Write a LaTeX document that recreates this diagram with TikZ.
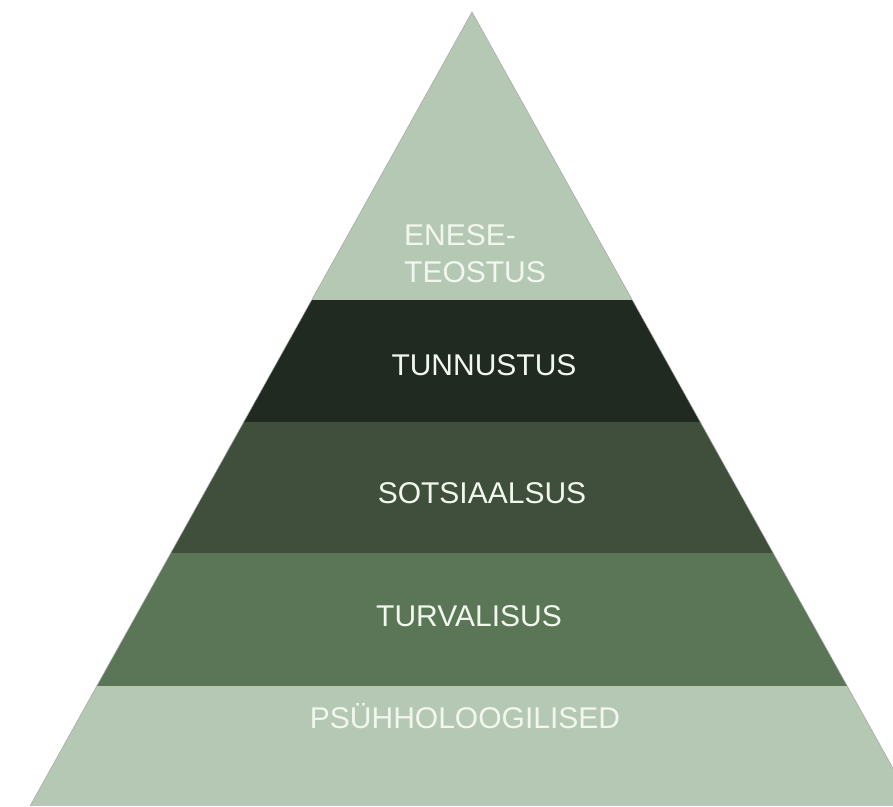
\documentclass[tikz,border=0pt]{standalone}
\usepackage{fontspec}
\setmainfont{Liberation Sans}
\definecolor{lightband}{HTML}{B5C8B4}
\definecolor{darkband}{HTML}{212A21}
\definecolor{midband}{HTML}{3F4F3C}
\definecolor{greenband}{HTML}{5A7657}
\definecolor{labeltext}{HTML}{F2F7EE}
\tikzset{
  lbl/.style={text=labeltext, font=\fontsize{30}{35}\selectfont, inner sep=0pt},
}
\begin{document}
\begin{tikzpicture}[x=1pt,y=-1pt]
\useasboundingbox (0,0) rectangle (893,806);
\fill[white] (0,0) rectangle (893,806);
\coordinate (apex) at (472,12);
\coordinate (bl) at (30,806);
\coordinate (br) at (914,806);
\begin{scope}
  \clip (0,0) rectangle (893,806);
  \begin{scope}
    \clip (apex) -- (bl) -- (br) -- cycle;
    \fill[lightband] (0,0) rectangle (914,300);
    \fill[darkband] (0,300) rectangle (914,422);
    \fill[midband] (0,422) rectangle (914,553);
    \fill[greenband] (0,553) rectangle (914,686);
    \fill[lightband] (0,686) rectangle (914,806);
  \end{scope}
  \draw[gray!70, line width=0.5pt] (bl) -- (apex) -- (br);
\end{scope}
\node[lbl, anchor=base west] (l1a) at (404,245) {ENESE-};
\node[lbl, anchor=base west] (l1b) at (404,282) {TEOSTUS};
\node[lbl, anchor=base] (l2) at (484,375) {TUNNUSTUS};
\node[lbl, anchor=base] (l3) at (482,503) {SOTSIAALSUS};
\node[lbl, anchor=base] (l4) at (469,626) {TURVALISUS};
\node[lbl, anchor=base] (l5) at (465,728) {PSÜHHOLOOGILISED};
\end{tikzpicture}
\end{document}
